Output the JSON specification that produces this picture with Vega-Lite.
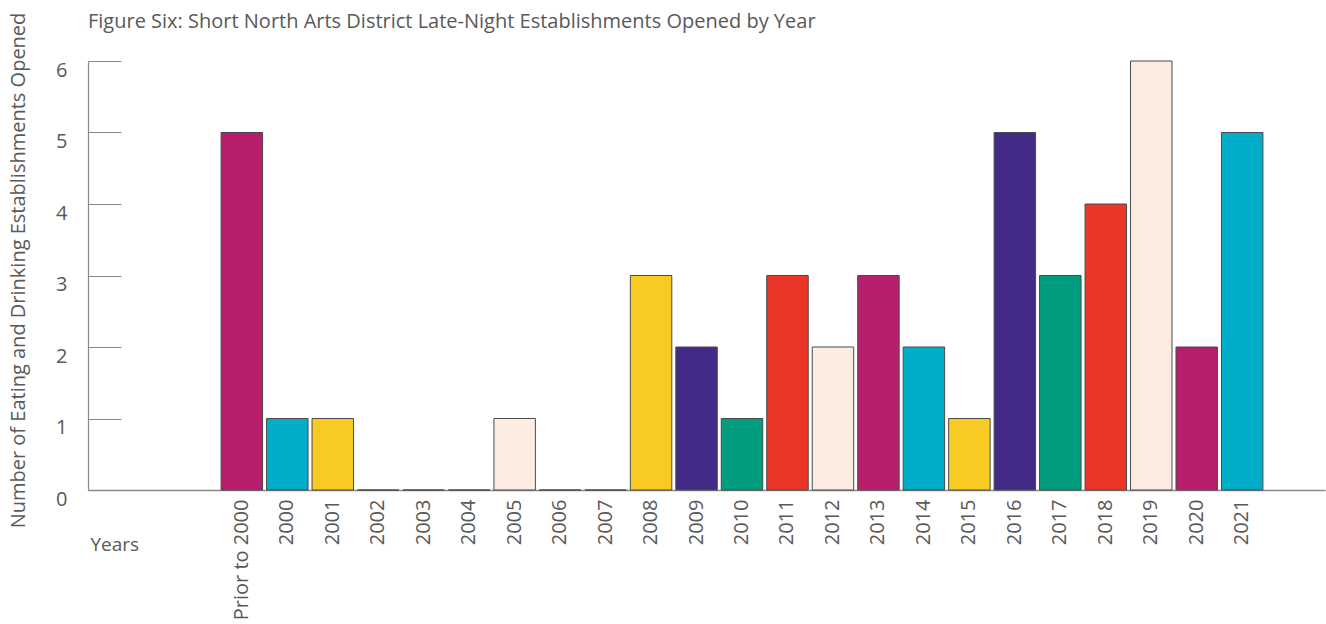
{
  "$schema": "https://vega.github.io/schema/vega-lite/v6.json",
  "autosize": "none",
  "width": 1237,
  "height": 429,
  "padding": {"left": 88, "top": 61, "right": 1, "bottom": 134},
  "background": "white",
  "title": {
    "text": "Figure Six: Short North Arts District Late-Night Establishments Opened by Year",
    "anchor": "start",
    "frame": "group",
    "font": "Open Sans",
    "fontSize": 20,
    "fontWeight": "normal",
    "color": "#595959",
    "offset": 0,
    "dy": 20
  },
  "data": {
    "values": [
      {"year": "Prior to 2000", "count": 5},
      {"year": "2000", "count": 1},
      {"year": "2001", "count": 1},
      {"year": "2002", "count": 0},
      {"year": "2003", "count": 0},
      {"year": "2004", "count": 0},
      {"year": "2005", "count": 1},
      {"year": "2006", "count": 0},
      {"year": "2007", "count": 0},
      {"year": "2008", "count": 3},
      {"year": "2009", "count": 2},
      {"year": "2010", "count": 1},
      {"year": "2011", "count": 3},
      {"year": "2012", "count": 2},
      {"year": "2013", "count": 3},
      {"year": "2014", "count": 2},
      {"year": "2015", "count": 1},
      {"year": "2016", "count": 5},
      {"year": "2017", "count": 3},
      {"year": "2018", "count": 4},
      {"year": "2019", "count": 6},
      {"year": "2020", "count": 2},
      {"year": "2021", "count": 5}
    ]
  },
  "mark": {"type": "bar", "stroke": "#4a4a4a", "strokeWidth": 1},
  "encoding": {
    "x": {
      "field": "year",
      "type": "nominal",
      "sort": null,
      "scale": {
        "domain": [" ", "  ", "Prior to 2000", "2000", "2001", "2002", "2003", "2004", "2005", "2006", "2007", "2008", "2009", "2010", "2011", "2012", "2013", "2014", "2015", "2016", "2017", "2018", "2019", "2020", "2021", "   "],
        "paddingInner": 0.088,
        "paddingOuter": 0.646,
        "align": 0.7175
      },
      "axis": {
        "title": "Years",
        "titleAngle": 0,
        "titleAlign": "left",
        "titleX": 2,
        "titleY": 60,
        "titleBaseline": "alphabetic",
        "titleFont": "Open Sans",
        "titleFontSize": 19,
        "titleFontWeight": "normal",
        "titleColor": "#595959",
        "labelAngle": -90,
        "labelAlign": "right",
        "labelBaseline": "middle",
        "labelPadding": 9,
        "labelFont": "Open Sans",
        "labelFontSize": 20,
        "labelColor": "#595959",
        "labelOverlap": false,
        "ticks": false,
        "domainColor": "#888888",
        "domainWidth": 1.5
      }
    },
    "y": {
      "field": "count",
      "type": "quantitative",
      "scale": {"domain": [0, 6], "nice": false},
      "axis": {
        "title": "Number of Eating and Drinking Establishments Opened",
        "values": [0, 1, 2, 3, 4, 5, 6],
        "grid": false,
        "tickSize": -33,
        "tickColor": "#888888",
        "tickWidth": 1.2,
        "domainColor": "#888888",
        "domainWidth": 1.2,
        "labelPadding": 54,
        "labelOffset": 9,
        "labelFont": "Open Sans",
        "labelFontSize": 20,
        "labelColor": "#595959",
        "titleX": -70,
        "titleY": 209,
        "titleAngle": -90,
        "titleAlign": "center",
        "titleBaseline": "middle",
        "titleFont": "Open Sans",
        "titleFontSize": 20,
        "titleFontWeight": "normal",
        "titleColor": "#595959"
      }
    },
    "color": {
      "field": "year",
      "type": "nominal",
      "sort": null,
      "scale": {
        "domain": ["Prior to 2000", "2000", "2001", "2002", "2003", "2004", "2005", "2006", "2007", "2008", "2009", "2010", "2011", "2012", "2013", "2014", "2015", "2016", "2017", "2018", "2019", "2020", "2021"],
        "range": ["#B71F6C", "#00AEC9", "#F8CA24", "#432A86", "#009E7E", "#EB3627", "#FCECE2", "#B71F6C", "#00AEC9", "#F8CA24", "#432A86", "#009E7E", "#EB3627", "#FCECE2", "#B71F6C", "#00AEC9", "#F8CA24", "#432A86", "#009E7E", "#EB3627", "#FCECE2", "#B71F6C", "#00AEC9"]
      },
      "legend": null
    }
  },
  "config": {"view": {"stroke": null}}
}
